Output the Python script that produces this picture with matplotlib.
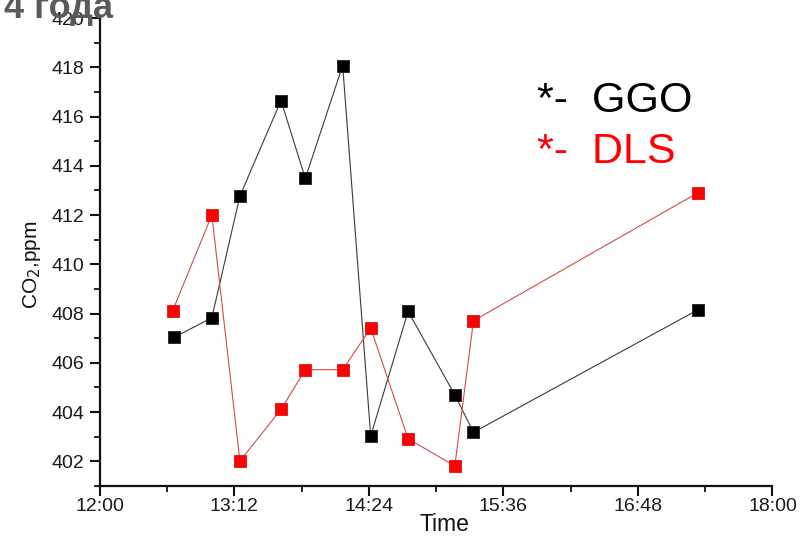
import matplotlib
matplotlib.use('Agg')
import matplotlib.pyplot as plt
from matplotlib.ticker import MultipleLocator, FixedLocator, FixedFormatter

plt.rcParams['font.family'] = ['Liberation Sans', 'DejaVu Sans']

# ---- data ----
ggo_times = ['12:40', '13:00', '13:15', '13:37', '13:50', '14:10', '14:25', '14:45', '15:10', '15:20', '17:20']
ggo_co2 = [407.04, 407.83, 412.77, 416.65, 413.49, 418.07, 403.03, 408.09, 404.70, 403.18, 408.15]
dls_times = ['12:39', '13:00', '13:15', '13:37', '13:50', '14:10', '14:25', '14:45', '15:10', '15:20', '17:20']
dls_co2 = [408.11, 412.00, 402.01, 404.11, 405.72, 405.72, 407.41, 402.92, 401.81, 407.71, 412.90]
x_tick_labels = ['12:00', '13:12', '14:24', '15:36', '16:48', '18:00']
y_ticks = [402, 404, 406, 408, 410, 412, 414, 416, 418, 420]


def to_min(s):
    h, m = s.split(':')
    return (int(h) - 12) * 60 + int(m)


gx = [to_min(t) for t in ggo_times]
dx = [to_min(t) for t in dls_times]
xt = [to_min(t) for t in x_tick_labels]

fig = plt.figure(figsize=(8.03, 5.36), dpi=100)
ax = fig.add_axes([0.1242, 0.0933, 0.8378, 0.8731])

ax.plot(gx, ggo_co2, '-', color='#3a3a3a', lw=0.8, marker='s', ms=8.3,
        mfc='black', mec='#202020', mew=0.6, zorder=3)
ax.plot(dx, dls_co2, '-', color='#d84848', lw=0.8, marker='s', ms=8.3,
        mfc='#ff0000', mec='#e01010', mew=0.6, zorder=3)

ax.set_xlim(0, 360)
ax.set_ylim(401, 420)
ax.xaxis.set_major_locator(FixedLocator(xt))
ax.xaxis.set_major_formatter(FixedFormatter(x_tick_labels))
ax.xaxis.set_minor_locator(MultipleLocator(36))
ax.yaxis.set_major_locator(FixedLocator(y_ticks))
ax.yaxis.set_minor_locator(MultipleLocator(1))

for s in ['top', 'right']:
    ax.spines[s].set_visible(False)
for s in ['left', 'bottom']:
    ax.spines[s].set_linewidth(1.6)
    ax.spines[s].set_color('#111111')

ax.tick_params(which='major', direction='out', length=7, width=1.5, labelsize=14,
               colors='#111111', labelcolor='#1a1a1a')
ax.tick_params(which='minor', direction='out', length=4, width=1.3, colors='#111111')
ax.tick_params(axis='y', which='major', pad=4)
ax.tick_params(axis='x', which='major', pad=2)

ax.set_xlabel('Time', fontsize=16.5, color='#111111')
ax.xaxis.set_label_coords(0.513, -0.058)
ax.set_ylabel('CO$_2$,ppm', fontsize=15, color='#111111')
ax.yaxis.set_label_coords(-0.085, 0.472)

fig.text(537 / 803, 1 - 112 / 536, '*-  GGO', fontsize=31, color='black', va='baseline', ha='left')
fig.text(537 / 803, 1 - 163 / 536, '*-  DLS', fontsize=31, color='#ff0000', va='baseline', ha='left')

fig.text(4 / 803, 1 - 18 / 536, '4 года', fontsize=26, fontweight='bold', color='#5a5a5a',
         va='baseline', ha='left', zorder=5)

fig.savefig('out.png', dpi=100)
